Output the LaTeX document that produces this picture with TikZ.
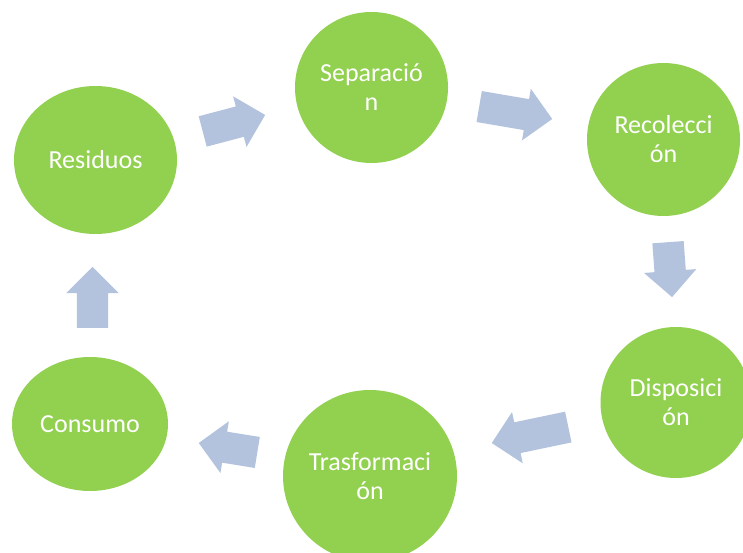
\documentclass[tikz,border=0pt]{standalone}
\usepackage{fontspec}
\setmainfont{Carlito}
\usetikzlibrary{shapes.geometric,shapes.arrows}
\definecolor{nodegreen}{HTML}{92D050}
\definecolor{arrowblue}{HTML}{B3C3DE}
\tikzset{
  stage/.style={ellipse, fill=nodegreen, draw=none, inner sep=0pt, text=white,
    align=center, font=\fontsize{26bp}{29bp}\selectfont},
  blockarrow/.style={single arrow, fill=arrowblue, draw=none, inner xsep=0pt,
    inner ysep=15.5bp, minimum width=52bp, single arrow head extend=10.5bp, anchor=tail}
}
\begin{document}
\begin{tikzpicture}[x=1bp,y=-1bp]
\useasboundingbox (0,0) rectangle (743,553);
\clip (0,0) rectangle (743,553);
\node[stage, minimum width=163bp, minimum height=148bp] (res) at (95.5,160) {Residuos};
\node[stage, minimum width=153bp, minimum height=151bp] (sep) at (371.5,87.5) {Separació\\n};
\node[stage, minimum width=153bp, minimum height=153bp] (rec) at (663.5,139.5) {Recolecci\\ón};
\node[stage, minimum width=151bp, minimum height=151bp] (dis) at (676,402.5) {Disposici\\ón};
\node[stage, minimum width=174bp, minimum height=172bp] (tra) at (370,476) {Trasformaci\\ón};
\node[stage, minimum width=156bp, minimum height=134bp] (con) at (90,424) {Consumo};
\node[blockarrow, minimum height=64.6bp, rotate=14.8] (a1) at (202.5,131.5) {};
\node[blockarrow, minimum height=74.1bp, rotate=-9.7] (a2) at (479,106.5) {};
\node[blockarrow, minimum height=55.1bp, rotate=-85.8] (a3) at (668,242) {};
\node[blockarrow, minimum height=78.2bp, rotate=191.8] (a4) at (568.5,427) {};
\node[blockarrow, minimum height=59.3bp, rotate=170.8] (a5) at (257.5,452.5) {};
\node[blockarrow, minimum height=61bp, rotate=90] (a6) at (92.5,328) {};
\end{tikzpicture}
\end{document}
